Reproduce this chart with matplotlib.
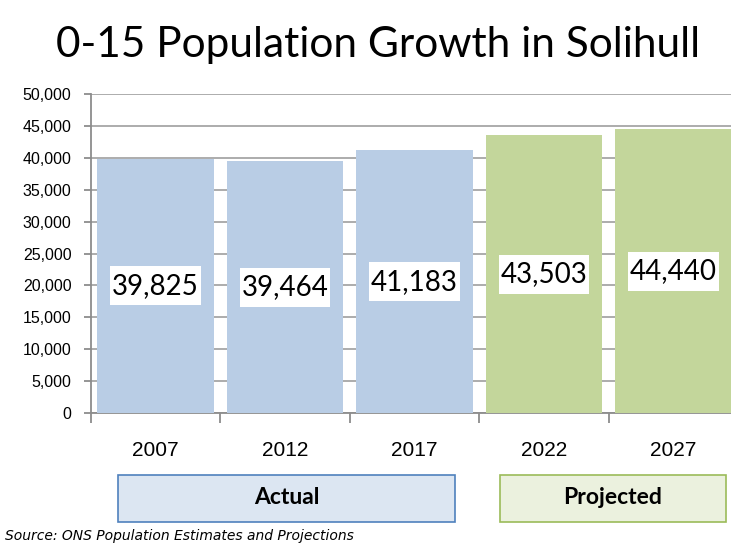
import matplotlib.pyplot as plt
from matplotlib.patches import FancyBboxPatch, Rectangle
import numpy as np

years = ['2007', '2012', '2017', '2022', '2027']
population = [39825, 39464, 41183, 43503, 44440]
bar_colours = ['#B9CDE5', '#B9CDE5', '#B9CDE5', '#C3D69B', '#C3D69B']
yticks = np.arange(0, 50001, 5000)

fig = plt.figure(figsize=(7.31, 5.44), dpi=100)
# plot area runs a little past the right edge of the image, as in the original
ax = fig.add_axes([91/731, 1 - 413/544, (738 - 91)/731, (413 - 94)/544])

x = np.arange(len(years))
bars = ax.bar(x, population, width=0.9, color=bar_colours, zorder=3)

# value labels in white boxes, middle of each bar
box_w, box_h = 0.7, 6100
for xi, v in zip(x, population):
    ax.add_patch(Rectangle((xi - box_w / 2, v / 2 - box_h / 2), box_w, box_h,
                           fc='white', ec='none', zorder=4))
    ax.text(xi, v / 2, f'{v:,}', ha='center', va='center', fontsize=20,
            family='Lato', zorder=5)

ax.set_xlim(-0.5, len(years) - 0.5)
ax.set_ylim(0, 50000)
ax.set_yticks(yticks)
ax.set_yticklabels([f'{t:,}' for t in yticks], fontsize=11.5, family='Liberation Sans')
ax.yaxis.grid(True, color='#A6A6A6', linewidth=1.3, zorder=0)
ax.set_axisbelow(True)

ax.set_xticks(x)
ax.set_xticklabels(years, fontsize=15, family='Liberation Sans')
ax.set_xticks(np.arange(-0.5, len(years)), minor=True)
ax.tick_params(axis='x', which='major', length=0, pad=20)
ax.tick_params(axis='x', which='minor', length=7, color='#8C8C8C', width=1.3)
ax.tick_params(axis='y', length=5, color='#8C8C8C', width=1.3, pad=9)

for side in ['top', 'right']:
    ax.spines[side].set_visible(False)
ax.spines['left'].set_color('#8C8C8C')
ax.spines['bottom'].set_color('#8C8C8C')
ax.spines['left'].set_linewidth(1.3)
ax.spines['bottom'].set_linewidth(1.3)

fig.text(0.517, 1 - 45/544, '0-15 Population Growth in Solihull', ha='center', va='center',
         fontsize=30.5, family='Lato')

# Actual / Projected boxes under the axis
actual = FancyBboxPatch((118/731, 1 - 522/544), (455 - 118)/731, 47/544,
                        boxstyle='square,pad=0', transform=fig.transFigure,
                        fc='#DCE6F2', ec='#4F81BD', lw=1.2)
projected = FancyBboxPatch((500/731, 1 - 522/544), (726 - 500)/731, 47/544,
                           boxstyle='square,pad=0', transform=fig.transFigure,
                           fc='#EBF1DE', ec='#9BBB59', lw=1.2)
fig.patches.extend([actual, projected])
fig.text((118 + 455) / 2 / 731, 1 - 498/544, 'Actual', ha='center', va='center',
         fontsize=16.5, fontweight='bold', family='Lato')
fig.text((500 + 726) / 2 / 731, 1 - 498/544, 'Projected', ha='center', va='center',
         fontsize=16.5, fontweight='bold', family='Lato')

fig.text(5/731, 1 - 536/544, 'Source: ONS Population Estimates and Projections',
         ha='left', va='center', fontsize=10, style='italic', family='DejaVu Sans')

plt.savefig('out.png', dpi=100)
